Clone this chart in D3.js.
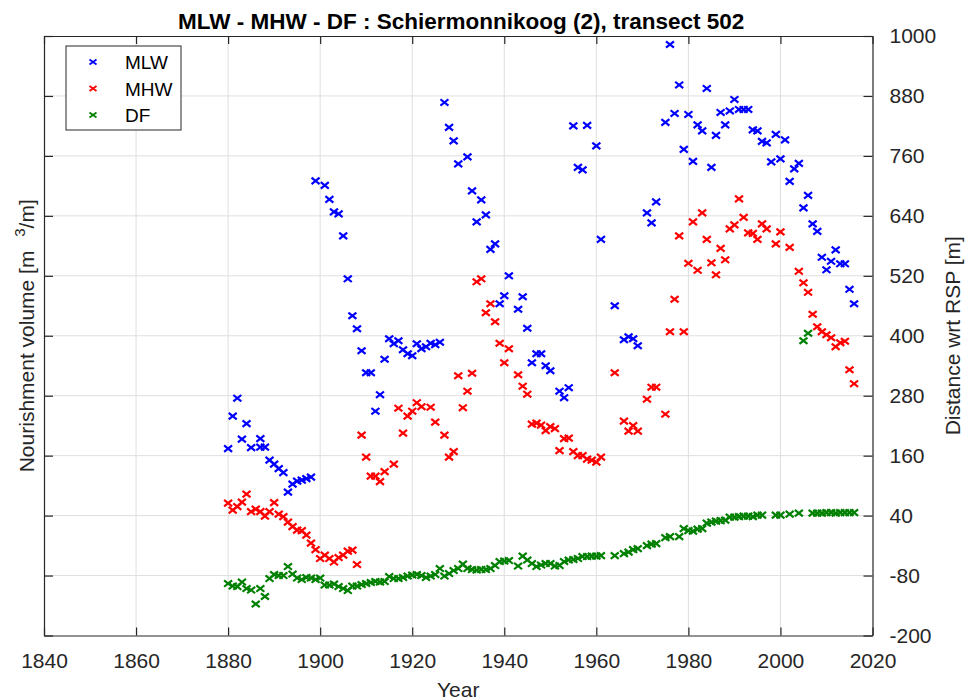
<!DOCTYPE html>
<html>
<head>
<meta charset="utf-8">
<script src="https://cdn.jsdelivr.net/npm/d3@7"></script>
<style>
  body { margin: 0; background: #fff; }
  text { font-family: "Liberation Sans", Arial, sans-serif; fill: #262626; }
</style>
</head>
<body>
<svg id="chart" width="965" height="700"></svg>
<script>
// --- data ---
var mlwYears = [1880,1881,1882,1883,1884,1885,1887,1887,1888,1889,1890,1891,1892,1893,1894,1895,1896,1897,1898,
  1899,1901,1902,1903,1904,1905,1906,1907,1908,1909,1910,1911,1912,1913,1914,1915,1916,1917,1918,1919,1920,
  1921,1922,1923,1924,1925,1926,1927,1928,1929,1930,1932,1933,1934,1935,1936,1937,1938,1939,1940,1941,
  1943,1944,1945,1946,1947,1948,1949,1950,1952,1953,1954,1955,1956,1957,1958,1960,1961,1964,1966,1967,
  1968,1969,1971,1972,1973,1975,1976,1977,1978,1979,1980,1981,1982,1983,1984,1985,1986,1987,1988,1989,
  1990,1991,1992,1993,1994,1995,1996,1997,1998,1999,2000,2001,2002,2003,2004,2005,2006,2007,2008,2009,
  2010,2011,2012,2013,2014,2015,2016];
var mlwValues = [174,239,275,193,224,176,194,177,177,151,143,134,126,87,103,109,111,114,117,
  710,701,673,648,644,600,514,440,414,370,326,326,249,282,353,394,384,390,372,364,360,
  384,374,378,385,382,387,867,817,790,744,758,690,628,672,642,573,584,464,480,520,
  453,478,415,346,364,364,340,330,289,276,296,820,737,732,821,780,593,460,392,398,
  394,380,646,626,668,827,983,845,902,773,843,749,822,810,895,737,801,847,822,850,
  873,853,853,853,812,810,789,786,748,803,754,792,709,734,745,656,681,624,609,557,
  532,549,572,544,544,493,464];

var mhwYears = [1880,1881,1882,1883,1884,1885,1886,1887,1888,1889,1890,1891,1892,1893,1894,1895,1896,1897,1898,
  1899,1900,1901,1902,1903,1904,1905,1906,1907,1908,1909,1910,1911,1912,1913,1914,1916,1917,1918,1919,1920,
  1921,1922,1924,1925,1927,1928,1929,1930,1931,1932,1933,1934,1935,1936,1937,1938,1939,1940,1941,
  1943,1944,1945,1946,1947,1948,1949,1950,1951,1952,1953,1954,1955,1956,1957,1958,1959,1960,1961,1964,
  1966,1967,1968,1969,1971,1972,1973,1975,1976,1977,1978,1979,1980,1981,1982,1983,1984,1985,1986,1987,
  1988,1989,1990,1991,1992,1993,1994,1995,1996,1997,1999,2000,2002,2004,2005,2006,2007,2008,2009,2010,
  2011,2012,2013,2014,2015,2016];
var mhwValues = [65,51,58,67,83,48,53,48,39,48,66,43,38,27,18,11,10,1,-15,
  -28,-46,-39,-46,-53,-44,-39,-31,-29,-58,201,157,119,119,108,128,143,255,205,239,249,
  266,258,257,227,201,157,168,320,256,289,325,508,514,446,464,428,385,346,374,
  322,299,283,223,225,221,210,218,214,170,194,195,168,160,160,153,151,147,157,326,
  229,209,220,209,273,297,297,243,408,473,600,408,545,628,531,646,593,546,522,575,
  552,614,622,674,637,606,605,593,624,614,584,608,577,529,506,487,443,418,408,402,
  396,378,386,389,332,304];

var dfYears = [1880,1881,1882,1883,1884,1885,1886,1887,1888,1889,1890,1891,1892,1893,1894,1895,1896,1897,1898,
  1899,1900,1901,1902,1903,1904,1905,1906,1907,1908,1909,1910,1911,1912,1913,1914,1915,1916,1917,1918,1919,
  1920,1921,1922,1923,1924,1925,1926,1927,1928,1929,1930,1931,1932,1933,1934,1935,1936,1937,1938,1939,
  1940,1941,1943,1944,1945,1946,1947,1948,1949,1950,1951,1952,1953,1954,1955,1956,1957,1958,1959,1960,
  1961,1964,1966,1967,1968,1969,1971,1972,1973,1975,1976,1978,1979,1980,1981,1982,1983,1984,1985,1986,
  1987,1988,1989,1990,1991,1992,1993,1994,1995,1996,1999,2000,2002,2004,2005,2006,2007,2008,2009,2010,
  2011,2012,2013,2014,2015,2016];
var dfValues = [-96,-101,-102,-93,-106,-109,-137,-106,-122,-86,-78,-80,-80,-62,-77,-85,-88,-84,-85,
  -88,-85,-99,-99,-97,-102,-106,-110,-101,-101,-98,-96,-94,-92,-93,-92,-82,-86,-86,-84,-81,
  -79,-78,-80,-84,-81,-78,-66,-81,-76,-70,-66,-57,-66,-68,-69,-68,-68,-66,-60,-52,
  -51,-50,-61,-41,-49,-56,-62,-59,-56,-56,-61,-60,-52,-49,-48,-46,-42,-42,-41,-41,
  -40,-40,-36,-33,-28,-26,-20,-17,-16,-4,-2,-2,14,10,9,13,14,25,27,29,
  30,31,37,37,38,39,39,38,41,41,41,41,43,45,390,405,45,45,45,46,
  46,45,46,46,46,46];

var seriesNames = ["MLW", "MHW", "DF"];
var seriesColors = ["#0000ff", "#ff0000", "#008000"];
var xTicks = [1840,1860,1880,1900,1920,1940,1960,1980,2000,2020];
var yTicks = [-200,-80,40,160,280,400,520,640,760,880,1000];

var svg = d3.select("#chart");
var plotLeft = 44, plotRight = 872.5, plotTop = 36, plotBottom = 635.5;

var x = d3.scaleLinear().domain([1840, 2020]).range([plotLeft, plotRight]);
var y = d3.scaleLinear().domain([-200, 1000]).range([plotBottom, plotTop]);

// grid
svg.append("g").selectAll("line")
  .data(xTicks.slice(1, -1))
  .enter().append("line")
  .attr("x1", d => x(d)).attr("x2", d => x(d))
  .attr("y1", plotTop).attr("y2", plotBottom)
  .attr("stroke", "#dfdfdf").attr("stroke-width", 1);
svg.append("g").selectAll("line")
  .data(yTicks.slice(1, -1))
  .enter().append("line")
  .attr("x1", plotLeft).attr("x2", plotRight)
  .attr("y1", d => y(d)).attr("y2", d => y(d))
  .attr("stroke", "#dfdfdf").attr("stroke-width", 1);

// axes, ticks pointing inward
function styleAxis(g) {
  g.selectAll(".domain").attr("stroke", "#262626").attr("stroke-width", 1.2);
  g.selectAll(".tick line").attr("stroke", "#262626").attr("stroke-width", 1.2);
  g.selectAll(".tick text").attr("fill", "#262626")
    .style("font-family", '"Liberation Sans", Arial, sans-serif').style("font-size", "21px");
}

// plain hyphen for negatives, like the original
var plain = d => String(d);

svg.append("g").attr("transform", `translate(0,${plotBottom})`)
  .call(d3.axisBottom(x).tickValues(xTicks).tickFormat(plain).tickSizeInner(-8).tickSizeOuter(0).tickPadding(18))
  .call(styleAxis);
svg.append("g").attr("transform", `translate(0,${plotTop})`)
  .call(d3.axisTop(x).tickValues(xTicks).tickFormat("").tickSizeInner(-8).tickSizeOuter(0))
  .call(styleAxis);
svg.append("g").attr("transform", `translate(${plotLeft},0)`)
  .call(d3.axisLeft(y).tickValues(yTicks).tickFormat("").tickSizeInner(-9).tickSizeOuter(0))
  .call(styleAxis);
svg.append("g").attr("transform", `translate(${plotRight},0)`)
  .call(d3.axisRight(y).tickValues(yTicks).tickFormat(plain).tickSizeInner(-9).tickSizeOuter(0).tickPadding(17))
  .call(styleAxis);

// markers
function cross(hw, hh) {
  return `M${-hw},${-hh}L${hw},${hh}M${-hw},${hh}L${hw},${-hh}`;
}

var allSeries = [
  {years: mlwYears, values: mlwValues},
  {years: mhwYears, values: mhwValues},
  {years: dfYears, values: dfValues}
];

allSeries.forEach(function(s, i) {
  var pts = s.years.map((yr, j) => ({year: yr, value: s.values[j]}));
  svg.append("g").selectAll("path")
    .data(pts)
    .enter().append("path")
    .attr("d", cross(4, 3.2))
    .attr("transform", d => `translate(${x(d.year)},${y(d.value)})`)
    .attr("fill", "none")
    .attr("stroke", seriesColors[i])
    .attr("stroke-width", 2.2);
});

// title and labels
svg.append("text")
  .attr("x", (plotLeft + plotRight) / 2 + 3).attr("y", 29)
  .attr("text-anchor", "middle")
  .style("font-size", "22.5px").style("font-weight", "bold")
  .style("fill", "#000")
  .text("MLW - MHW - DF : Schiermonnikoog (2), transect 502");

svg.append("text")
  .attr("x", (plotLeft + plotRight) / 2).attr("y", 697)
  .attr("text-anchor", "middle")
  .style("font-size", "21px")
  .text("Year");

var yl = svg.append("text")
  .attr("transform", `translate(34,${(plotTop + plotBottom) / 2}) rotate(-90)`)
  .attr("text-anchor", "middle")
  .style("font-size", "21px");
yl.append("tspan").text("Nourishment volume [m ");
yl.append("tspan").attr("dx", 8).attr("dy", -9).style("font-size", "15px").text("3");
yl.append("tspan").attr("dy", 9).text("/m]");

svg.append("text")
  .attr("transform", `translate(960,${(plotTop + plotBottom) / 2}) rotate(-90)`)
  .attr("text-anchor", "middle")
  .style("font-size", "21px")
  .text("Distance wrt RSP [m]");

// legend
var lg = svg.append("g");
lg.append("rect")
  .attr("x", 66).attr("y", 46).attr("width", 115).attr("height", 84)
  .attr("fill", "#fff").attr("stroke", "#262626").attr("stroke-width", 1);
seriesNames.forEach(function(name, i) {
  var ly = 62 + i * 26.5;
  lg.append("path")
    .attr("d", cross(3.5, 2.5))
    .attr("transform", `translate(93,${ly})`)
    .attr("fill", "none").attr("stroke", seriesColors[i]).attr("stroke-width", 1.8);
  lg.append("text")
    .attr("x", 125).attr("y", ly + 7)
    .style("font-size", "19px").style("fill", "#000")
    .text(name);
});
</script>
</body>
</html>
